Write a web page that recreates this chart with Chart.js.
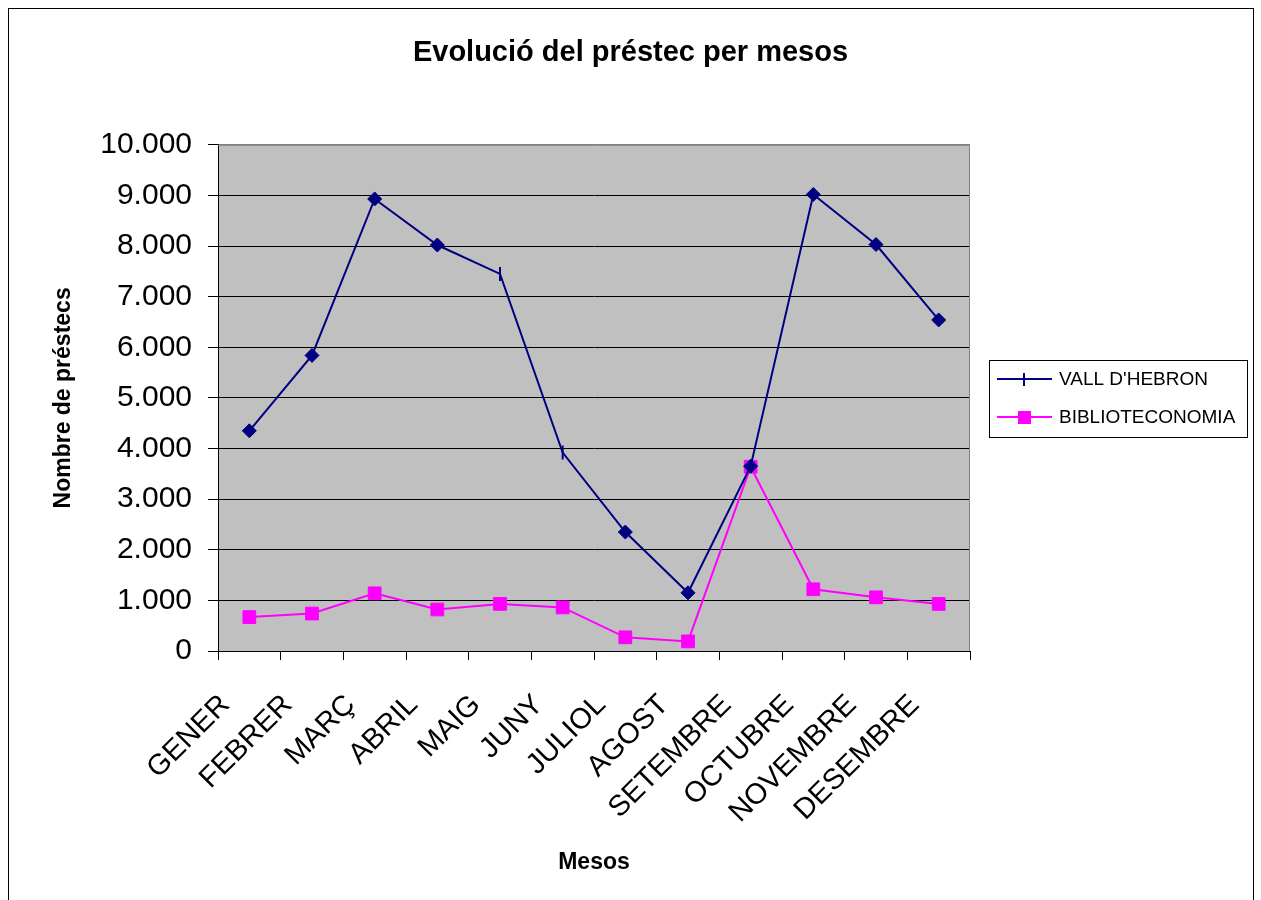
<!DOCTYPE html>
<html lang="ca">
<head>
  <meta charset="UTF-8">
  <title>Evolució del préstec per mesos</title>
  <script src="https://cdn.jsdelivr.net/npm/chart.js"></script>
  <style>
    body { margin: 0; background: #fff; }
  </style>
</head>
<body>
  <canvas id="prestecChart" width="1261" height="900"></canvas>
  <script>
    // months on the x axis
    const mesos = ['GENER', 'FEBRER', 'MARÇ', 'ABRIL', 'MAIG', 'JUNY', 'JULIOL',
                   'AGOST', 'SETEMBRE', 'OCTUBRE', 'NOVEMBRE', 'DESEMBRE'];

    // loans per month
    const vallHebron = [4350, 5840, 8930, 8020, 7450, 3920, 2350, 1150, 3650, 9020, 8030, 6540];
    const biblioteconomia = [670, 740, 1140, 820, 930, 860, 270, 190, 3640, 1220, 1060, 930];

    const yMin = 0;
    const yMax = 10000;
    const yStep = 1000;

    const FONT = "'Liberation Sans', Arial, sans-serif";

    // thousands with a dot, like 10.000
    function fmt(v) {
      return String(v).replace(/\B(?=(\d{3})+(?!\d))/g, '.');
    }

    // grey plot area, frame round the whole chart, legend box
    const frame = {
      id: 'frame',
      beforeDraw(chart) {
        const { ctx, chartArea: a } = chart;
        ctx.save();
        ctx.fillStyle = '#fff';
        ctx.fillRect(0, 0, chart.width, chart.height);
        ctx.fillStyle = '#C0C0C0';
        ctx.fillRect(a.left, a.top, a.right - a.left, a.bottom - a.top);
        ctx.strokeStyle = '#000';
        ctx.lineWidth = 1;
        ctx.strokeRect(8.5, 8.5, 1245, 900);
        ctx.restore();
      },
      beforeDatasetsDraw(chart) {
        const { ctx, chartArea: a } = chart;
        ctx.save();
        ctx.strokeStyle = '#808080';
        ctx.lineWidth = 1;
        ctx.beginPath();
        ctx.moveTo(a.left, a.top + 0.5);
        ctx.lineTo(a.right - 0.5, a.top + 0.5);
        ctx.lineTo(a.right - 0.5, a.bottom);
        ctx.stroke();
        ctx.restore();
      },
      afterDraw(chart) {
        const ctx = chart.ctx;
        ctx.save();
        ctx.strokeStyle = '#000';
        ctx.lineWidth = 1;
        ctx.strokeRect(989.5, 360.5, 258, 77);

        // VALL D'HEBRON
        ctx.strokeStyle = '#000080';
        ctx.lineWidth = 2;
        ctx.beginPath();
        ctx.moveTo(997, 379);
        ctx.lineTo(1052, 379);
        ctx.moveTo(1024, 373);
        ctx.lineTo(1024, 386);
        ctx.stroke();

        // BIBLIOTECONOMIA
        ctx.strokeStyle = '#FF00FF';
        ctx.beginPath();
        ctx.moveTo(997, 417);
        ctx.lineTo(1052, 417);
        ctx.stroke();
        ctx.fillStyle = '#FF00FF';
        ctx.fillRect(1018, 411, 13, 13);

        ctx.fillStyle = '#000';
        ctx.font = '19px ' + FONT;
        ctx.textBaseline = 'middle';
        ctx.textAlign = 'left';
        ctx.fillText("VALL D'HEBRON", 1059, 380);
        ctx.fillText('BIBLIOTECONOMIA', 1059, 418);
        ctx.restore();
      }
    };

    const ctx = document.getElementById('prestecChart').getContext('2d');

    new Chart(ctx, {
      type: 'line',
      data: {
        labels: mesos,
        datasets: [
          {
            label: "VALL D'HEBRON",
            data: vallHebron,
            borderColor: '#000080',
            backgroundColor: '#000080',
            borderWidth: 2,
            pointStyle: ['rectRot', 'rectRot', 'rectRot', 'rectRot', 'line', 'line',
                         'rectRot', 'rectRot', 'rectRot', 'rectRot', 'rectRot', 'rectRot'],
            pointRotation: [0, 0, 0, 0, 90, 90, 0, 0, 0, 0, 0, 0],
            pointBorderWidth: [1, 1, 1, 1, 2, 2, 1, 1, 1, 1, 1, 1],
            pointRadius: 7,
            pointBorderColor: '#000080',
            pointBackgroundColor: '#000080',
            tension: 0
          },
          {
            label: 'BIBLIOTECONOMIA',
            data: biblioteconomia,
            borderColor: '#FF00FF',
            backgroundColor: '#FF00FF',
            borderWidth: 2,
            pointStyle: 'rect',
            pointRadius: 9,
            pointBorderWidth: 1,
            pointBorderColor: '#FF00FF',
            pointBackgroundColor: '#FF00FF',
            tension: 0
          }
        ]
      },
      options: {
        responsive: false,
        animation: false,
        devicePixelRatio: 1,
        layout: { padding: 0 },
        plugins: {
          legend: { display: false },
          tooltip: { enabled: false },
          title: {
            display: true,
            text: 'Evolució del préstec per mesos',
            color: '#000',
            font: { family: FONT, size: 29, weight: 'bold' },
            padding: { top: 36, bottom: 74 }
          }
        },
        scales: {
          x: {
            offset: true,
            grid: {
              offset: true,
              drawOnChartArea: false,
              drawTicks: true,
              tickLength: 9,
              color: '#000',
              tickColor: '#000'
            },
            border: { color: '#000', width: 1 },
            ticks: {
              autoSkip: false,
              minRotation: 45,
              maxRotation: 45,
              padding: 28,
              labelOffset: -24,
              color: '#000',
              font: { family: FONT, size: 29 }
            },
            title: {
              display: true,
              text: 'Mesos',
              color: '#000',
              font: { family: FONT, size: 23, weight: 'bold' },
              padding: { top: 0, bottom: 24 }
            },
            afterFit(scale) { scale.height = 249; }
          },
          y: {
            min: yMin,
            max: yMax,
            ticks: {
              stepSize: yStep,
              padding: 16,
              color: '#000',
              font: { family: FONT, size: 30 },
              callback: v => fmt(v)
            },
            grid: {
              color: c => (c.tick && c.tick.value === yMax) ? '#808080' : '#000',
              tickColor: '#000',
              tickLength: 10,
              lineWidth: 1
            },
            border: { color: '#000', width: 1 },
            title: {
              display: true,
              text: 'Nombre de préstecs',
              color: '#000',
              font: { family: FONT, size: 23, weight: 'bold' },
              padding: { top: 50, bottom: 0 }
            },
            afterFit(scale) { scale.width = 218; }
          },
          // empty strip on the right where the legend sits
          legendSpace: {
            type: 'linear',
            position: 'right',
            display: true,
            grid: { display: false, drawTicks: false },
            border: { display: false },
            ticks: { display: false },
            afterFit(scale) { scale.width = 291; }
          }
        }
      },
      plugins: [frame]
    });
  </script>
</body>
</html>
